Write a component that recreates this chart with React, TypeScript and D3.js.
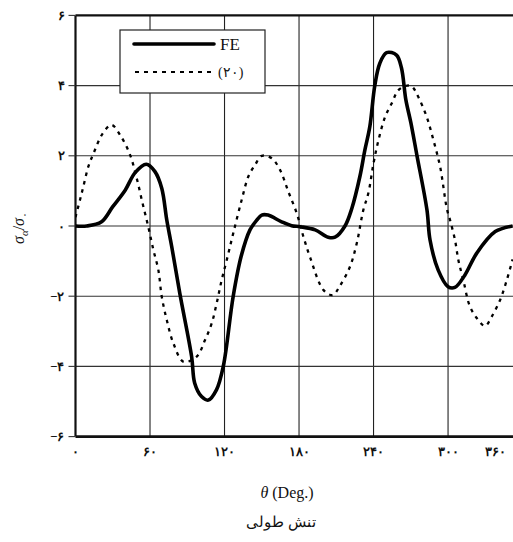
import React from "react";
import * as d3 from "d3";

const feTheta = [0, 9, 21, 30, 40, 48, 57, 64, 69.5, 73.5, 77.5, 84, 93.5, 96, 101.5, 107, 113.5, 119, 127, 133.5, 140.5, 146, 150, 155, 166, 174, 181, 193, 203.5, 209, 217, 222.5, 229, 233, 237, 241, 245, 250.5, 258.5, 262.5, 266, 270, 275, 283, 285.5, 292, 300, 305.5, 313.5, 323, 338, 352];
const feValues = [0, 0, 0.12, 0.55, 1.02, 1.52, 1.76, 1.55, 1.07, 0.17, -0.59, -1.92, -3.72, -4.48, -4.86, -4.96, -4.67, -4.0, -2.0, -0.85, -0.11, 0.17, 0.31, 0.31, 0.12, 0.01, -0.02, -0.11, -0.32, -0.32, 0, 0.5, 1.41, 2.16, 2.83, 4.0, 4.63, 4.94, 4.87, 4.5, 3.6, 2.95, 2.0, 0.46, -0.4, -1.25, -1.73, -1.75, -1.4, -0.78, -0.16, 0];

const refTheta = [0, 3.6, 6.3, 10.3, 14.3, 22, 29, 36, 44, 49.3, 54, 58.6, 62.7, 66.7, 69.4, 73.5, 78.8, 87, 97.6, 104.3, 109.7, 113.7, 117.7, 121.8, 127, 133.8, 139.2, 144.6, 150, 158, 164.7, 171.4, 178.2, 183.5, 189, 199.6, 207, 213, 221, 226.5, 231.8, 235.8, 240, 244, 249.3, 254.7, 260, 267, 271, 276, 282.8, 288.2, 293.6, 299, 301.6, 305.6, 308.3, 312.3, 317.7, 324.4, 329.8, 335.2, 342, 347.3, 352];
const refValues = [0.25, 0.74, 1.12, 1.69, 2.05, 2.64, 2.88, 2.59, 2.02, 1.36, 0.65, -0.02, -0.68, -1.25, -2.0, -2.68, -3.34, -3.87, -3.72, -3.25, -2.77, -2.2, -1.54, -0.97, -0.21, 0.74, 1.41, 1.74, 2.0, 1.93, 1.6, 0.98, 0.36, -0.3, -0.9, -1.82, -1.97, -1.7, -1.16, -0.49, 0.46, 0.93, 1.79, 2.45, 3.11, 3.5, 3.87, 4.0, 3.97, 3.68, 3.11, 2.45, 1.69, 0.5, 0.17, -0.4, -0.97, -1.54, -2.3, -2.68, -2.85, -2.58, -2.1, -1.54, -0.95];

const xTicks = [0, 60, 120, 180, 240, 300, 360];
const xTickLabels = ["۰", "۶۰", "۱۲۰", "۱۸۰", "۲۴۰", "۳۰۰", "۳۶۰"];
const yTicks = [6, 4, 2, 0, -2, -4, -6];
const yTickLabels = ["۶", "۴", "۲", "۰", "−۲", "−۴", "−۶"];
const seriesNames = ["FE", "(۲۰)"];
const xTitle = "θ (Deg.)";
const captionText = "تنش طولی";

const W = 513;
const H = 542;
const left = 75.5;
const right = 513;
const top = 15.4;
const bottom = 436.6;

export default function App() {
  const x = d3.scaleLinear().domain([0, 352.3]).range([left, right]);
  const y = d3.scaleLinear().domain([-6, 6]).range([bottom, top]);

  const line = d3
    .line<[number, number]>()
    .x((d) => x(d[0]))
    .y((d) => y(d[1]))
    .curve(d3.curveCatmullRom.alpha(0.5));

  const fe: [number, number][] = feTheta.map((t, i) => [t, feValues[i]]);
  const ref: [number, number][] = refTheta.map((t, i) => [t, refValues[i]]);

  const serif = "'Liberation Serif', 'DejaVu Serif', serif";

  return (
    <svg
      width={W}
      height={H}
      style={{ position: "absolute", left: 0, top: 0, background: "#fff" }}
      fontFamily={serif}
    >
      <defs>
        <clipPath id="plotClip">
          <rect x={left} y={top - 2} width={right - left} height={bottom - top + 4} />
        </clipPath>
      </defs>
      {xTicks
        .filter((t) => t > 0 && x(t) < right)
        .map((t) => (
          <line key={"gx" + t} x1={x(t)} x2={x(t)} y1={top} y2={bottom} stroke="#222" strokeWidth={1.1} />
        ))}
      {yTicks
        .filter((t) => t > -6 && t < 6)
        .map((t) => (
          <line key={"gy" + t} x1={left} x2={right} y1={y(t)} y2={y(t)} stroke="#333" strokeWidth={1.1} />
        ))}
      <line x1={left} x2={right} y1={top} y2={top} stroke="#111" strokeWidth={2.2} />
      <line x1={left} x2={right} y1={bottom} y2={bottom} stroke="#111" strokeWidth={2.6} />
      <line x1={left} x2={left} y1={top} y2={bottom} stroke="#111" strokeWidth={2.2} />
      {yTicks.map((t, i) => (
        <g key={"yt" + t}>
          <line x1={left - 7} x2={left} y1={y(t)} y2={y(t)} stroke="#333" strokeWidth={1.1} />
          <text x={left - 11} y={y(t) + 4.5} textAnchor="end" fontSize={13} fontWeight="bold" fill="#111">
            {yTickLabels[i]}
          </text>
        </g>
      ))}
      {xTicks.map((t, i) => (
        <text
          key={"xt" + t}
          x={Math.min(x(t), W - 18)}
          y={bottom + 19}
          textAnchor="middle"
          fontSize={13}
          fontWeight="bold"
          fill="#111"
        >
          {xTickLabels[i]}
        </text>
      ))}
      <g clipPath="url(#plotClip)">
        <path d={line(ref) || ""} fill="none" stroke="#000" strokeWidth={2.3} strokeDasharray="3.5 5" />
        <path d={line(fe) || ""} fill="none" stroke="#000" strokeWidth={3.6} strokeLinejoin="round" />
      </g>
      <rect x={120} y={30} width={145} height={63} fill="#fff" stroke="#222" strokeWidth={1.2} />
      <line x1={134} x2={214} y1={44} y2={44} stroke="#000" strokeWidth={3.6} strokeLinecap="round" />
      <text x={220} y={50} fontSize={17} fill="#111">{seriesNames[0]}</text>
      <line x1={135} x2={212} y1={72} y2={72} stroke="#000" strokeWidth={2.2} strokeDasharray="4 5" />
      <text x={218} y={77} fontSize={14} fill="#111">{seriesNames[1]}</text>
      <text
        transform={`translate(24, 228) rotate(-90)`}
        textAnchor="middle"
        fontSize={16}
        fill="#111"
      >
        <tspan fontStyle="italic">σ</tspan>
        <tspan fontSize={11} dy={4} fontStyle="italic">α</tspan>
        <tspan dy={-4}>/</tspan>
        <tspan fontStyle="italic">σ</tspan>
        <tspan fontSize={11} dy={4}>۰</tspan>
      </text>
      <text x={287} y={498} textAnchor="middle" fontSize={16} fill="#111">
        <tspan fontStyle="italic">θ</tspan>
        {xTitle.slice(1)}
      </text>
      <text x={281} y={527} textAnchor="middle" fontSize={15} fill="#111" direction="rtl">
        {captionText}
      </text>
    </svg>
  );
}
